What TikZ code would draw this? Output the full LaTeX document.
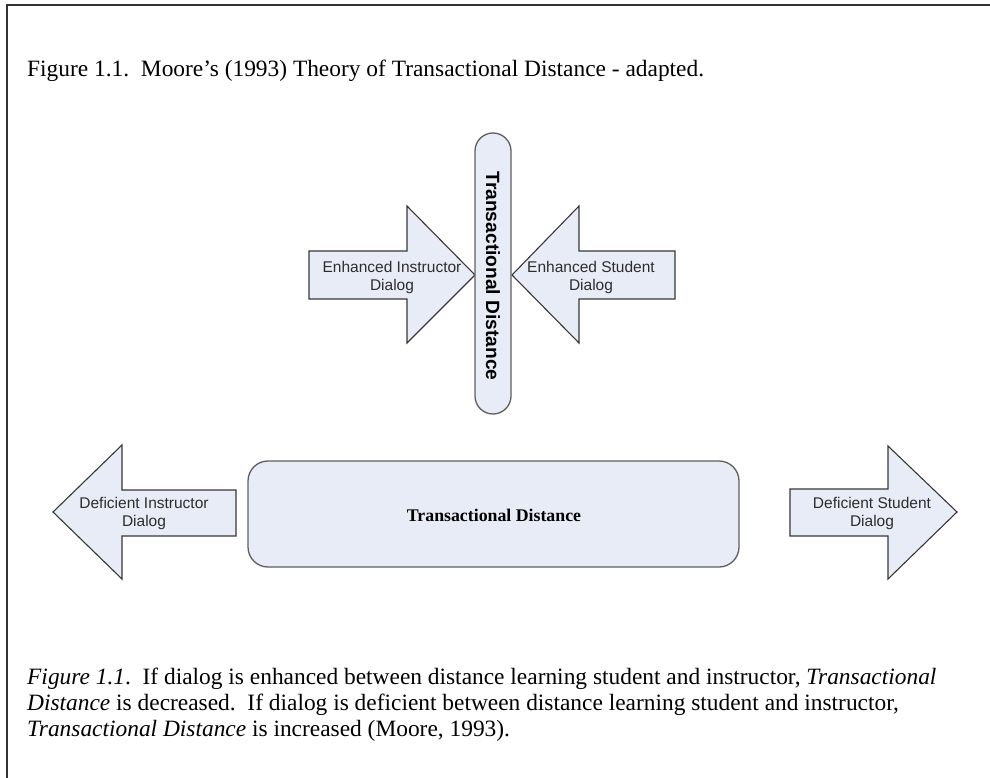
\documentclass[tikz,border=0pt]{standalone}
\usepackage{fontspec}
\setmainfont{Liberation Serif}
\newfontfamily\labelsans{Liberation Sans}
\definecolor{shapefill}{RGB}{231,236,247}
\definecolor{shapeline}{RGB}{55,55,55}
\definecolor{boxline}{RGB}{95,95,95}
\definecolor{labelgrey}{RGB}{45,45,45}
\definecolor{framegrey}{RGB}{50,50,50}
\tikzset{
  blockarrow/.style={draw=shapeline, fill=shapefill, line width=1.1pt, line join=miter},
  roundbox/.style={draw=boxline, fill=shapefill, line width=1.3pt},
  dialog/.style={font=\labelsans\fontsize{15.5}{18}\selectfont, text=labelgrey, align=center, inner sep=0pt},
  bodytext/.style={font=\fontsize{23.4}{26}\selectfont, inner sep=0pt, anchor=base west},
}
\begin{document}
\begin{tikzpicture}[x=1pt, y=-1pt]
\useasboundingbox (0,0) rectangle (990,778);

% page frame (top and left rules)
\draw[framegrey, line width=2pt] (7,778) -- (7,5) -- (990,5);

% heading
\node[bodytext] (heading) at (27,77) {Figure 1.1.\ \ Moore’s (1993) Theory of Transactional Distance - adapted.};

% enhanced dialog arrows pointing at the vertical bar
\draw[blockarrow] (309,251) -- (407,251) -- (407,206) -- (475,275) -- (407,343) -- (407,299) -- (309,299) -- cycle;
\draw[blockarrow] (675,251) -- (579,251) -- (579,206) -- (512,275) -- (579,343) -- (579,299) -- (675,299) -- cycle;

% vertical transactional distance bar
\draw[roundbox, rounded corners=18pt] (475,133) rectangle (511,414);
\node[font=\labelsans\bfseries\fontsize{19.2}{22}\selectfont, text=black, rotate=-90, inner sep=0pt] (tdvert) at (493,276) {Transactional Distance};

\node[dialog] (enhinstr) at (392,277) {Enhanced Instructor\\Dialog};
\node[dialog] (enhstud) at (591,277) {Enhanced Student\\Dialog};

% deficient dialog arrows pointing away from the wide box
\draw[blockarrow] (236,490) -- (122,490) -- (122,445) -- (53,512) -- (122,579) -- (122,536) -- (236,536) -- cycle;
\draw[blockarrow] (790,489) -- (888,489) -- (888,446) -- (957,512) -- (888,579) -- (888,536) -- (790,536) -- cycle;

% wide transactional distance box
\draw[roundbox, rounded corners=20pt] (248,461) rectangle (739,567);
\node[font=\bfseries\fontsize{17.8}{20}\selectfont, inner sep=0pt] (tdwide) at (494,515) {Transactional Distance};

\node[dialog] (definstr) at (144,513) {Deficient Instructor\\Dialog};
\node[dialog] (defstud) at (872,513) {Deficient Student\\Dialog};

% caption
\node[bodytext] (capA) at (27,684) {\textit{Figure 1.1}.\ \ If dialog is enhanced between distance learning student and instructor, \textit{Transactional}};
\node[bodytext] (capB) at (27,710) {\textit{Distance} is decreased.\ \ If dialog is deficient between distance learning student and instructor,};
\node[bodytext] (capC) at (27,736) {\textit{Transactional Distance} is increased (Moore, 1993).};
\end{tikzpicture}
\end{document}
